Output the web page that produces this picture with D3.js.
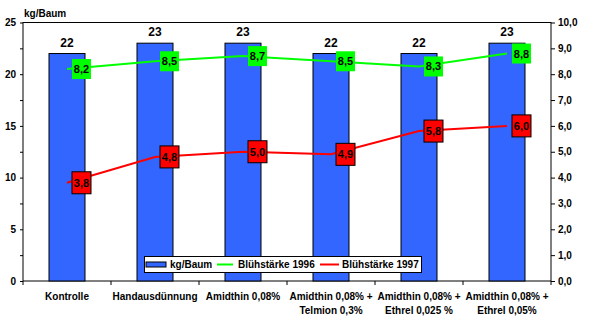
<!DOCTYPE html>
<html><head><meta charset="utf-8">
<script src="https://cdn.jsdelivr.net/npm/d3@7"></script>
<style>body{margin:0;background:#fff}svg{display:block;font-family:"Liberation Sans",Arial,sans-serif;font-weight:bold}</style>
</head><body>
<svg id="c" width="590" height="323"></svg>
<script>
const categories = [["Kontrolle"],["Handausdünnung"],["Amidthin 0,08%"],["Amidthin 0,08% +","Telmion 0,3%"],["Amidthin 0,08% +","Ethrel 0,025 %"],["Amidthin 0,08% +","Ethrel 0,05%"]];
const kgBaum = [22,23,23,22,22,23];
const bluete1996 = [8.2,8.5,8.7,8.5,8.3,8.8];
const bluete1997 = [3.8,4.8,5.0,4.9,5.8,6.0];
const leftTicks = [0,5,10,15,20,25];
const rightTicks = [0,1,2,3,4,5,6,7,8,9,10];
const seriesNames = ["kg/Baum","Blühstärke 1996","Blühstärke 1997"];

const svg = d3.select("#c");
const L=23,R=551,T=22.5,B=281;
const x = d3.scaleBand().domain(d3.range(categories.length)).range([L,R]).padding(0);
const yL = d3.scaleLinear().domain([0,25]).range([B,T]);
const yR = d3.scaleLinear().domain([0,10]).range([B,T]);
const fmt = d => d.toFixed(1).replace(".",",");
const bw = 36;

// plot border
svg.append("rect").attr("x",L).attr("y",T).attr("width",R-L).attr("height",B-T).attr("fill","none").attr("stroke","#000").attr("stroke-width",1);

// left axis
const gl = svg.append("g").attr("transform",`translate(${L},0)`)
  .call(d3.axisLeft(yL).tickValues(d3.range(0,25.1,2.5)).tickSize(3).tickFormat(d=>leftTicks.includes(d)?d:""));
gl.select(".domain").remove();
gl.selectAll("text").attr("font-size",10).attr("font-weight","bold").attr("font-family","Liberation Sans, Arial").attr("fill","#000").attr("x",-7);
// right axis
const gr = svg.append("g").attr("transform",`translate(${R},0)`)
  .call(d3.axisRight(yR).tickValues(rightTicks).tickSize(4).tickFormat(fmt));
gr.select(".domain").remove();
gr.selectAll("text").attr("font-size",10).attr("font-weight","bold").attr("font-family","Liberation Sans, Arial").attr("fill","#000").attr("x",7);
// bottom axis
const gb = svg.append("g").attr("transform",`translate(0,${B})`);
gb.selectAll("line").data(d3.range(categories.length+1)).join("line")
  .attr("x1",i=>L+i*x.bandwidth()).attr("x2",i=>L+i*x.bandwidth()).attr("y1",0).attr("y2",4).attr("stroke","#000");
const xl = svg.append("g").selectAll("text").data(categories).join("text")
  .attr("text-anchor","middle").attr("font-size",10).attr("fill","#000")
  .attr("transform",(d,i)=>`translate(${x(i)+x.bandwidth()/2},300)`);
xl.selectAll("tspan").data(d=>d).join("tspan").attr("x",0).attr("y",(d,j)=>j*14).text(d=>d);

// axis title
svg.append("text").attr("x",24).attr("y",17).attr("font-size",10).text("kg/Baum");

// bars
const cx = i => x(i)+x.bandwidth()/2;
svg.append("g").selectAll("rect").data(kgBaum).join("rect")
  .attr("x",(d,i)=>cx(i)-bw/2).attr("width",bw).attr("y",d=>yL(d)).attr("height",d=>B-yL(d))
  .attr("fill","#3366ff").attr("stroke","#000").attr("stroke-width",1);
svg.append("g").selectAll("text").data(kgBaum).join("text")
  .attr("x",(d,i)=>cx(i)).attr("y",d=>yL(d)-7).attr("text-anchor","middle").attr("font-size",12).text(d=>d);

// lines
const line = d3.line().x((d,i)=>cx(i)).y(d=>yR(d));
svg.append("path").datum(bluete1996).attr("d",line).attr("fill","none").attr("stroke","#00ff00").attr("stroke-width",2);
svg.append("path").datum(bluete1997).attr("d",line).attr("fill","none").attr("stroke","#ff0000").attr("stroke-width",2);

function labels(data, fill, stroke, h){
  const g = svg.append("g").selectAll("g").data(data).join("g").attr("transform",(d,i)=>`translate(${cx(i)+5},${yR(d)})`);
  g.append("rect").attr("x",0).attr("y",-h/2).attr("width",19).attr("height",h).attr("fill",fill).attr("stroke",stroke);
  g.append("text").attr("x",9.5).attr("y",4).attr("text-anchor","middle").attr("font-size",11).text(fmt);
}
labels(bluete1996,"#00ff00","none",20);
labels(bluete1997,"#ff0000","#000",22);

// legend
const lg = svg.append("g");
lg.append("rect").attr("x",144.5).attr("y",256.5).attr("width",277).attr("height",16).attr("fill","#fff").attr("stroke","#000");
lg.append("rect").attr("x",146).attr("y",262).attr("width",20).attr("height",5).attr("fill","#3366ff").attr("stroke","#000");
lg.append("text").attr("x",170).attr("y",268).attr("font-size",10).text(seriesNames[0]);
lg.append("line").attr("x1",217).attr("x2",233).attr("y1",264.5).attr("y2",264.5).attr("stroke","#00ff00").attr("stroke-width",2);
lg.append("text").attr("x",238).attr("y",268).attr("font-size",10).text(seriesNames[1]);
lg.append("line").attr("x1",320).attr("x2",339).attr("y1",264.5).attr("y2",264.5).attr("stroke","#ff0000").attr("stroke-width",2);
lg.append("text").attr("x",342).attr("y",268).attr("font-size",10).text(seriesNames[2]);
</script>
</body></html>
